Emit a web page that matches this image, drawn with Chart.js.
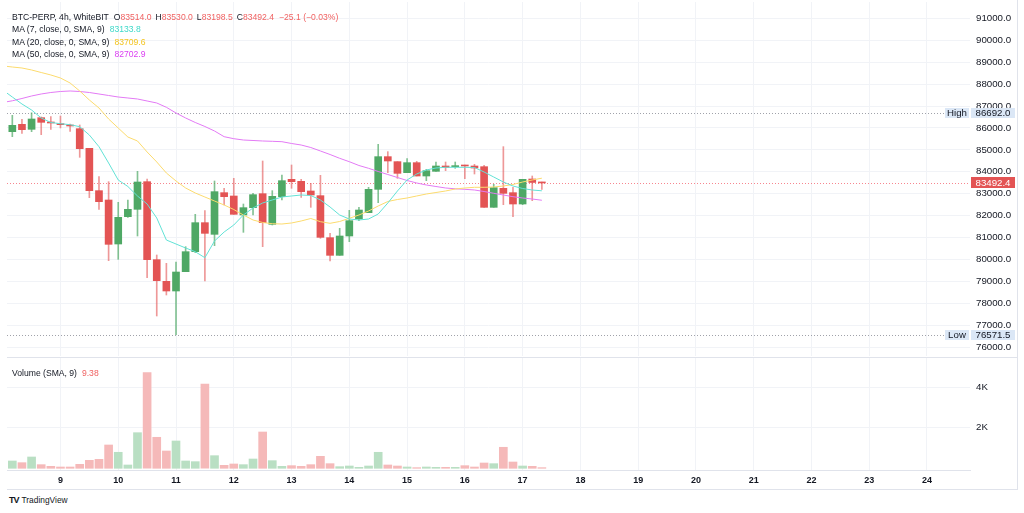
<!DOCTYPE html>
<html>
<head>
<meta charset="utf-8">
<script src="https://cdn.jsdelivr.net/npm/chart.js@4.4.1/dist/chart.umd.min.js"></script>
<style>
  html, body { margin: 0; padding: 0; background: #fff; }
  body { width: 1024px; height: 513px; position: relative; overflow: hidden;
         font-family: "Liberation Sans", Arial, sans-serif; color: #131722; }
  canvas { position: absolute; left: 0; }
  #priceChart { top: 0; }
  #volChart { top: 357px; }
  .legend { position: absolute; left: 12px; font-size: 8.6px; line-height: 12px; white-space: nowrap; }
  .r { color: #f06262; }
  .gap { margin-left: 4px; }
  .line { position: absolute; background: #e0e3eb; }
  #logo { position: absolute; left: 9px; top: 495px; font-size: 8.4px; white-space: nowrap; }
  #logo b { font-size: 9px; letter-spacing: -1px; margin-right: 3px; }
</style>
</head>
<body>
<canvas id="priceChart" width="1024" height="357"></canvas>
<canvas id="volChart" width="1024" height="135"></canvas>

<div class="legend" style="top:11px">BTC-PERP, 4h, WhiteBIT<span class="gap" style="margin-left:5px">O</span><span class="r">83514.0</span><span class="gap">H</span><span class="r">83530.0</span><span class="gap">L</span><span class="r">83198.5</span><span class="gap">C</span><span class="r">83492.4</span><span class="r" style="margin-left:5px">&minus;25.1 (&minus;0.03%)</span></div>
<div class="legend" style="top:23px">MA (7, close, 0, SMA, 9)<span style="margin-left:5px;color:#3fd9c9">83133.8</span></div>
<div class="legend" style="top:35.5px">MA (20, close, 0, SMA, 9)<span style="margin-left:5px;color:#f3c41f">83709.6</span></div>
<div class="legend" style="top:47.5px">MA (50, close, 0, SMA, 9)<span style="margin-left:5px;color:#db3ef2">82702.9</span></div>
<div class="legend" style="top:367px">Volume (SMA, 9)<span class="r" style="margin-left:5px">9.38</span></div>
<div id="logo"><b>TV</b>TradingView</div>

<div class="line" style="left:7px;top:357px;width:1010px;height:1px"></div>
<div class="line" style="left:7px;top:489px;width:1010px;height:1px"></div>
<div class="line" style="left:1017px;top:0;width:1px;height:490px"></div>

<script>
// 4h candles from 8th 04:00 to 17th 08:00
const dayLabels = ['9', '10', '11', '12', '13', '14', '15', '16', '17', '18', '19', '20', '21', '22', '23', '24'];
const priceTicks = [76000, 77000, 78000, 79000, 80000, 81000, 82000, 83000, 84000, 85000, 86000, 87000, 88000, 89000, 90000, 91000];
const volTicks = [2000, 4000];

const opens = [85830, 86165, 85937, 86469, 86256, 86180, 86119, 85967, 85070, 83140, 82714, 80708, 81955, 82289,
  83550, 79994, 79005, 78565, 79446, 80358, 81681, 81149, 83049, 82897, 82031, 82365, 83003, 81605, 82867, 83657,
  83566, 83125, 82912, 80997, 80191, 81073, 81848, 82137, 83201, 84691, 84463, 83961, 84417, 83809, 84022, 84265,
  84235, 84310, 84265, 84234, 82380, 83247, 83049, 82532, 83672, 83514];
const highs = [86575, 86393, 86692, 86500, 86515, 86545, 86180, 86135, 85070, 83778, 83550, 82608, 82714, 84022,
  83672, 80207, 79826, 79887, 80586, 82061, 82228, 83581, 83247, 83703, 82532, 83018, 84493, 83140, 83855, 84311,
  83657, 83474, 83839, 81194, 81423, 82243, 82380, 83292, 85253, 84919, 84463, 84600, 84478, 84113, 84447, 84447,
  84447, 84310, 84341, 84295, 83429, 85147, 83292, 83657, 83809, 83530];
const lows = [85602, 85755, 85830, 85694, 85937, 86000, 85845, 84660, 82821, 82289, 79948, 80009, 81924, 81073,
  79173, 77425, 78383, 76571.5, 79446, 80313, 79021, 80632, 82486, 82061, 81240, 82031, 80586, 81575, 82714, 83247,
  82836, 82380, 80966, 79933, 80191, 80814, 81772, 82137, 82593, 83961, 83703, 83961, 83809, 83596, 84022, 84052,
  84159, 83687, 83900, 82380, 82380, 82502, 81955, 82502, 82684, 83198.5];
const closes = [86119, 85922, 86408, 86256, 86226, 86150, 86089, 85055, 83140, 82638, 80693, 81924, 82289, 83535,
  79994, 79036, 78565, 79431, 80358, 81681, 81194, 83095, 82867, 82061, 82365, 82958, 81681, 82882, 83596, 83550,
  83095, 82942, 81012, 80191, 81073, 81772, 82258, 83201, 84691, 84493, 83930, 84417, 83809, 84052, 84265, 84204,
  84280, 84265, 84174, 82380, 83277, 83018, 82532, 83657, 83514, 83492.4];
const volumes = [360, 277, 557, 179, 97, 64, 64, 195, 393, 442, 1148, 788, 163, 1754, 4709, 1527, 852, 1345, 360,
  327, 4153, 622, 146, 212, 179, 458, 1788, 376, 97, 130, 97, 179, 590, 228, 80, 113, 48, 113, 788, 163, 113, 64,
  31, 64, 48, 48, 48, 130, 64, 261, 228, 1035, 310, 113, 97, 31];

// moving averages, first value at 8th 00:00
const ma7 = [87731, 87411, 87092, 86818, 86454, 86249, 86194, 86148, 86057, 85678, 85145, 84402, 83627, 83330, 82897,
  82532, 81894, 80890, 80708, 80526, 80357, 80083, 80845, 81255, 81574, 82031, 82350, 82578, 82715, 82851, 82897,
  82943, 82920, 82715, 82395, 82030, 81848, 81803, 81848, 82076, 82578, 83125, 83627, 83900, 84083, 84174, 84206,
  84206, 84206, 84197, 83991, 83763, 83535, 83353, 83239, 83170, 83133.8];
const ma20 = [88830, 88779, 88734, 88643, 88528, 88415, 88278, 88050, 87685, 87275, 86910, 86408, 85998, 85587, 85405,
  84904, 84448, 83946, 83581, 83262, 83034, 82851, 82669, 82487, 82281, 82031, 81803, 81689, 81634, 81620, 81666,
  81757, 81871, 81725, 81652, 81734, 81880, 82030, 82213, 82441, 82646, 82737, 82806, 82897, 82988, 83056, 83125,
  83216, 83262, 83294, 83294, 83307, 83353, 83421, 83535, 83627, 83709.6];
const ma50 = [87160, 87238, 87343, 87457, 87548, 87616, 87662, 87685, 87662, 87616, 87548, 87480, 87411, 87366, 87320,
  87229, 87138, 86942, 86682, 86454, 86249, 86066, 85861, 85601, 85510, 85450, 85428, 85405, 85391, 85373, 85291,
  85222, 85108, 84949, 84789, 84616, 84461, 84288, 84160, 84014, 83877, 83740, 83604, 83490, 83399, 83330, 83262,
  83225, 83202, 83171, 83102, 83020, 82942, 82865, 82806, 82760, 82702.9];

const highMark = 86692.0;
const lowMark = 76571.5;
const lastPrice = 83492.4;

const upColor = '#4fa865';
const downColor = '#e35454';
const upWick = 'rgba(79,168,101,0.7)';
const downWick = 'rgba(227,84,84,0.6)';
const upVol = '#b9dfc3';
const downVol = '#f5b9b9';
const gridColor = '#f1f3f7';
const textColor = '#131722';
const fontFamily = '"Liberation Sans", Arial, sans-serif';

const xMin = 0.447, xMax = 100.467;
const dayTicks = dayLabels.map((d, i) => ({ value: 6 * (i + 1) }));

const isUp = opens.map((o, k) => closes[k] >= o);

const candleX = k => k + 1;

function box(ctx, x, y, w, h, fill, text, color) {
    ctx.fillStyle = fill;
    ctx.fillRect(x, Math.round(y - h / 2), w, h);
    ctx.fillStyle = color;
    ctx.textAlign = 'center';
    ctx.textBaseline = 'middle';
    ctx.fillText(text, x + w / 2, y + 0.5);
}

const markers = {
    id: 'markers',
    beforeDatasetsDraw(chart) {
        const { ctx, chartArea: a, scales: { y } } = chart;
        ctx.save();
        ctx.lineWidth = 1;
        ctx.setLineDash([1, 2]);
        [[highMark, 'rgba(120,123,134,0.7)'], [lowMark, 'rgba(120,123,134,0.7)'], [lastPrice, 'rgba(242,54,69,0.6)']].forEach(([v, c]) => {
            const py = Math.round(y.getPixelForValue(v)) + 0.5;
            ctx.strokeStyle = c;
            ctx.beginPath();
            ctx.moveTo(a.left, py);
            ctx.lineTo(a.right, py);
            ctx.stroke();
        });
        ctx.restore();
    },
    afterDraw(chart) {
        const { ctx, chartArea: a, scales: { y } } = chart;
        ctx.save();
        ctx.font = '9.7px ' + fontFamily;
        const tagFill = '#dbe7f6';
        const hy = y.getPixelForValue(highMark);
        box(ctx, a.right - 25, hy, 24, 10, tagFill, 'High', textColor);
        box(ctx, a.right + 1, hy, 44, 10, tagFill, highMark.toFixed(1), textColor);
        const ly = y.getPixelForValue(lowMark);
        box(ctx, a.right - 25, ly, 24, 10, tagFill, 'Low', textColor);
        box(ctx, a.right + 1, ly, 44, 10, tagFill, lowMark.toFixed(1), textColor);
        const cy = y.getPixelForValue(lastPrice);
        box(ctx, a.right + 1, cy, 44, 11, '#e35454', lastPrice.toFixed(1), '#ffffff');
        ctx.restore();
    }
};

new Chart(document.getElementById('priceChart'), {
    type: 'bar',
    data: {
        datasets: [
            {
                type: 'line',
                data: ma7.map((v, j) => ({ x: j, y: v })),
                borderColor: '#62e2d6',
                borderWidth: 1,
                pointRadius: 0,
                order: 1
            },
            {
                type: 'line',
                data: ma20.map((v, j) => ({ x: j, y: v })),
                borderColor: '#fcdb6e',
                borderWidth: 1,
                pointRadius: 0,
                order: 1
            },
            {
                type: 'line',
                data: ma50.map((v, j) => ({ x: j, y: v })),
                borderColor: '#e37af5',
                borderWidth: 1,
                pointRadius: 0,
                order: 1
            },
            {
                data: opens.map((o, k) => ({ x: candleX(k), y: [o, closes[k]] })),
                backgroundColor: isUp.map(u => u ? upColor : downColor),
                barThickness: 7,
                minBarLength: 1,
                grouped: false,
                borderWidth: 0,
                order: 2
            },
            {
                data: lows.map((l, k) => ({ x: candleX(k), y: [l, highs[k]] })),
                backgroundColor: isUp.map(u => u ? upWick : downWick),
                barThickness: 1,
                grouped: false,
                borderWidth: 0,
                order: 3
            }
        ]
    },
    options: {
        responsive: false,
        animation: false,
        devicePixelRatio: 1,
        layout: { autoPadding: false, padding: { left: 7, top: 2, right: 0, bottom: 1 } },
        plugins: { legend: { display: false }, tooltip: { enabled: false } },
        scales: {
            x: {
                type: 'linear',
                min: xMin,
                max: xMax,
                offset: false,
                afterBuildTicks: s => { s.ticks = dayTicks.map(t => ({ value: t.value })); },
                ticks: { display: false },
                grid: { color: gridColor, drawTicks: false, offset: false },
                border: { display: false },
                afterFit: s => { s.height = 0; }
            },
            y: {
                type: 'linear',
                position: 'right',
                min: 75601,
                max: 91743,
                afterBuildTicks: s => { s.ticks = priceTicks.map(v => ({ value: v })); },
                ticks: {
                    padding: 6,
                    color: textColor,
                    font: { size: 9.7, family: fontFamily },
                    callback: v => v.toFixed(1)
                },
                grid: { color: gridColor, drawTicks: false },
                border: { display: false },
                afterFit: s => { s.width = 54; s.paddingTop = 0; s.paddingBottom = 0; }
            }
        }
    },
    plugins: [markers]
});

new Chart(document.getElementById('volChart'), {
    type: 'bar',
    data: {
        datasets: [{
            data: volumes.map((v, k) => ({ x: candleX(k), y: v })),
            backgroundColor: isUp.map(u => u ? upVol : downVol),
            barThickness: 8,
            grouped: false,
            borderWidth: 0
        }]
    },
    options: {
        responsive: false,
        animation: false,
        devicePixelRatio: 1,
        layout: { autoPadding: false, padding: { left: 7, top: 1, right: 0, bottom: 0 } },
        plugins: { legend: { display: false }, tooltip: { enabled: false } },
        scales: {
            x: {
                type: 'linear',
                min: xMin,
                max: xMax,
                offset: false,
                afterBuildTicks: s => { s.ticks = dayTicks.map(t => ({ value: t.value })); },
                ticks: {
                    autoSkip: false,
                    maxRotation: 0,
                    padding: 5,
                    color: textColor,
                    font: { size: 9, weight: '600', family: fontFamily },
                    callback: (v, i) => dayLabels[i]
                },
                grid: { color: gridColor, drawTicks: false, offset: false },
                border: { display: true, color: '#e0e3eb' },
                afterFit: s => { s.height = 22; s.paddingLeft = 0; s.paddingRight = 0; }
            },
            y: {
                type: 'linear',
                position: 'right',
                min: -84,
                max: 5433,
                afterBuildTicks: s => { s.ticks = volTicks.map(v => ({ value: v })); },
                ticks: {
                    padding: 6,
                    color: textColor,
                    font: { size: 9.7, family: fontFamily },
                    callback: v => (v / 1000) + 'K'
                },
                grid: { color: gridColor, drawTicks: false },
                border: { display: false },
                afterFit: s => { s.width = 54; s.paddingTop = 0; s.paddingBottom = 0; }
            }
        }
    }
});
</script>
</body>
</html>
